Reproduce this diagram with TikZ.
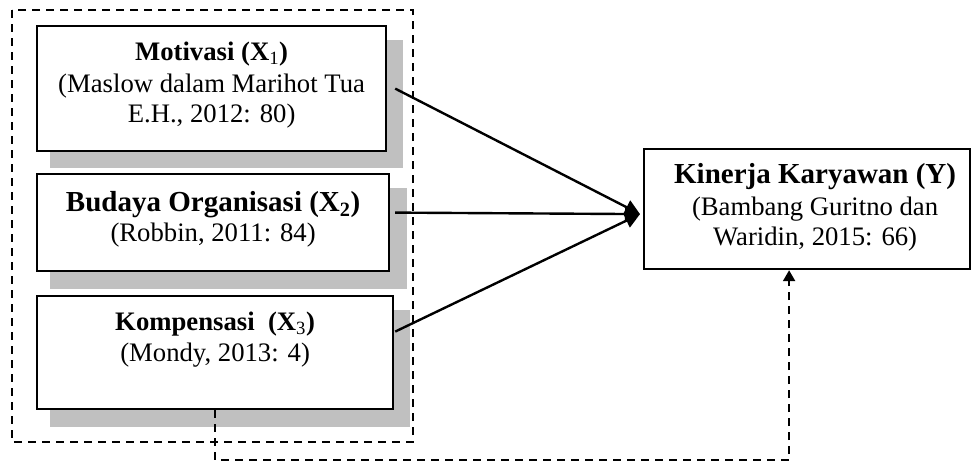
\documentclass[tikz,border=0pt]{standalone}
\usepackage{fontspec}
\setmainfont{Liberation Serif}
\usetikzlibrary{arrows.meta,backgrounds}
\definecolor{shadowgray}{RGB}{192,192,192}
\begin{document}
\begin{tikzpicture}[x=1pt,y=-1pt,
  card/.style={draw=black, line width=2.2pt, fill=white, inner sep=0pt, anchor=north west},
  shade/.style={fill=shadowgray, draw=none},
  label/.style={anchor=north, inner sep=0pt, align=center, font=\fontsize{26.7}{30}\selectfont},
  link/.style={line width=2.4pt, -{Triangle[length=15pt,width=15pt]}},
  dashlink/.style={line width=2.2pt, dash pattern=on 8pt off 6pt, -{Triangle[length=11pt,width=12pt]}},
  frame/.style={line width=1.8pt, dash pattern=on 8pt off 6pt}]
\useasboundingbox (0,0) rectangle (972,461);

% independent variable boxes
\node[card, minimum width=349pt, minimum height=125pt] (mot) at (36,25) {};
\node[card, minimum width=352pt, minimum height=97pt] (bud) at (36,173) {};
\node[card, minimum width=356pt, minimum height=113pt] (kom) at (36,295) {};

% grey drop shadows behind the boxes
\begin{scope}[on background layer]
\fill[shade] ([shift={(14,15)}]mot.north west) rectangle ([shift={(16,16)}]mot.south east);
\fill[shade] ([shift={(14,15)}]bud.north west) rectangle ([shift={(17,17)}]bud.south east);
\fill[shade] ([shift={(14,15)}]kom.north west) rectangle ([shift={(16,17)}]kom.south east);
\end{scope}

% dependent variable box
\node[card, minimum width=326pt, minimum height=120pt] (kin) at (643,148) {};

% box texts
\node[label] (motT) at ([yshift=-17pt]mot.north)
  {{\bfseries Motivasi (X\textsubscript{\mdseries 1})}\\[2pt]
   (Maslow dalam Marihot Tua\\ E.H., 2012: 80)};
\node[label] (budT) at ([yshift=-18pt]bud.north)
  {{\fontsize{29}{30}\selectfont\bfseries Budaya Organisasi (X\textsubscript{2})}\\
   (Robbin, 2011: 84)};
\node[label] (komT) at ([yshift=-17pt]kom.north)
  {{\bfseries Kompensasi~ (X\textsubscript{\mdseries 3})}\\[1pt]
   (Mondy, 2013: 4)};
\node[label] (kinT) at ([xshift=8pt,yshift=-15pt]kin.north)
  {{\fontsize{29}{30}\selectfont\bfseries Kinerja Karyawan (Y)}\\[2pt]
   (Bambang Guritno dan\\ Waridin, 2015: 66)};

% dashed frame around the independent variables
\draw[frame] (12,10) rectangle (413,442);

% connectors
\coordinate (tip) at ([xshift=-3pt,yshift=-5pt]kin.west);
\draw[link] ([xshift=8pt]mot.east) -- (tip);
\draw[link] ([xshift=5pt,yshift=10pt]bud.east) -- (tip);
\draw[link] ([xshift=1pt,yshift=21pt]kom.east) -- (tip);
\draw[dashlink] (kom.south) -- ++(0,50) -| ([xshift=-18pt]kin.south);
\end{tikzpicture}
\end{document}
